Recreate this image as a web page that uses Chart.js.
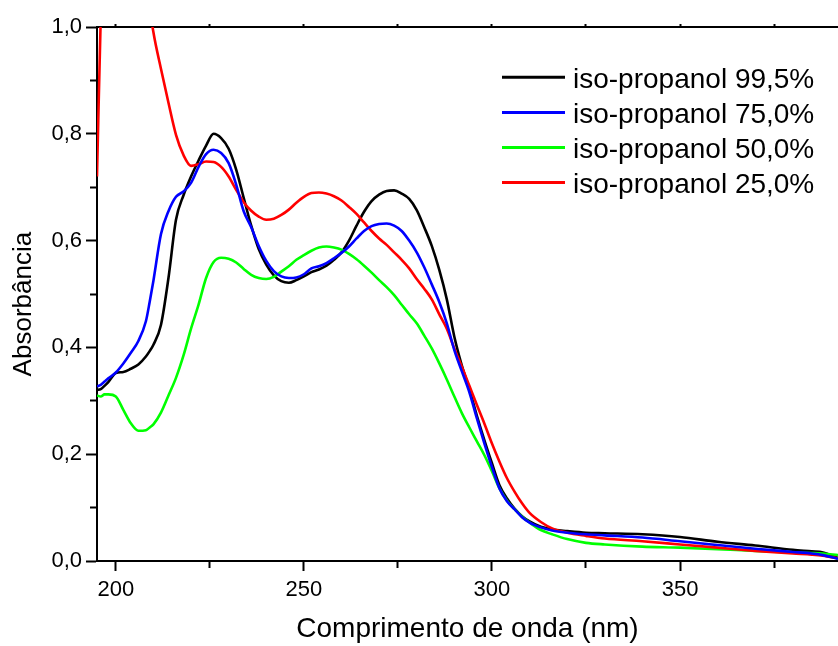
<!DOCTYPE html>
<html>
<head>
<meta charset="utf-8">
<script src="https://cdn.jsdelivr.net/npm/chart.js@4.4.1/dist/chart.umd.min.js"></script>
<style>
  html, body { margin: 0; padding: 0; background: #fff; }
  #c { display: block; }
</style>
</head>
<body>
<canvas id="c" width="838" height="646"></canvas>
<script>
// ---- data ----
const wavelengths = [195,196,197,198,200,202,204,206,208,209,210,212,214,216,218,220,222,224,226,228,230,232,234,236,238,240,242,244,246,248,250,252,254,256,258,260,262,264,266,268,270,272,274,276,278,280,282,284,286,288,290,292,294,296,298,300,302,304,306,308,310,313,316,320,325,330,340,350,360,370,380,385,388,392];

const seriesLabels = ['iso-propanol 99,5%','iso-propanol 75,0%','iso-propanol 50,0%','iso-propanol 25,0%'];

const iso995 = [0.320,0.322,0.328,0.335,0.352,0.354,0.360,0.368,0.383,0.393,0.405,0.442,0.530,0.639,0.685,0.720,0.750,0.778,0.800,0.792,0.772,0.733,0.680,0.628,0.584,0.555,0.535,0.524,0.521,0.526,0.533,0.541,0.546,0.553,0.564,0.578,0.600,0.628,0.654,0.674,0.686,0.693,0.694,0.688,0.678,0.657,0.625,0.590,0.545,0.490,0.420,0.366,0.322,0.272,0.226,0.183,0.142,0.117,0.098,0.084,0.074,0.064,0.059,0.056,0.053,0.052,0.050,0.045,0.036,0.029,0.021,0.018,0.016,0.006];

const iso750 = [0.327,0.330,0.336,0.342,0.353,0.370,0.390,0.412,0.449,0.485,0.525,0.612,0.655,0.682,0.692,0.708,0.738,0.762,0.770,0.764,0.745,0.705,0.655,0.625,0.590,0.562,0.543,0.533,0.530,0.531,0.537,0.548,0.552,0.558,0.567,0.577,0.589,0.604,0.618,0.627,0.631,0.632,0.628,0.618,0.600,0.578,0.550,0.518,0.485,0.445,0.395,0.355,0.316,0.267,0.220,0.176,0.136,0.112,0.097,0.082,0.072,0.063,0.057,0.053,0.050,0.048,0.044,0.037,0.030,0.023,0.017,0.014,0.011,0.004];

const iso500 = [0.310,0.308,0.312,0.312,0.308,0.283,0.258,0.244,0.245,0.250,0.256,0.278,0.310,0.343,0.385,0.435,0.480,0.530,0.560,0.568,0.566,0.559,0.547,0.536,0.530,0.528,0.532,0.542,0.552,0.564,0.573,0.581,0.587,0.589,0.587,0.583,0.575,0.565,0.553,0.540,0.526,0.513,0.498,0.480,0.462,0.445,0.422,0.398,0.370,0.340,0.308,0.277,0.250,0.224,0.198,0.168,0.136,0.113,0.097,0.083,0.072,0.058,0.050,0.041,0.034,0.031,0.027,0.025,0.022,0.019,0.016,0.015,0.014,0.011];

const iso250 = [0.720,1.020,1.200,1.280,1.350,1.340,1.300,1.240,1.150,1.040,0.990,0.922,0.858,0.798,0.760,0.740,0.743,0.748,0.747,0.738,0.720,0.695,0.672,0.656,0.645,0.639,0.641,0.648,0.658,0.671,0.682,0.689,0.690,0.688,0.683,0.675,0.663,0.650,0.634,0.618,0.604,0.592,0.578,0.564,0.548,0.528,0.510,0.490,0.462,0.435,0.398,0.364,0.328,0.292,0.257,0.220,0.186,0.155,0.130,0.108,0.090,0.073,0.061,0.053,0.047,0.042,0.037,0.031,0.025,0.019,0.014,0.012,0.010,0.005];

const xTickLabels = ['200','250','300','350'];
const yTickLabels = ['0,0','0,2','0,4','0,6','0,8','1,0'];

// ---- chart ----
const FONT = '"Liberation Sans", Arial, Helvetica, sans-serif';
const colors = ['#000000','#0000ff','#00ff00','#ff0000'];
const seriesValues = [iso995, iso750, iso500, iso250];
const drawOrder = [4, 1, 3, 2];

const datasets = seriesValues.map((vals, k) => ({
  label: seriesLabels[k],
  data: wavelengths.map((w, i) => ({ x: w, y: vals[i] })),
  borderColor: colors[k],
  backgroundColor: colors[k],
  borderWidth: 2.6,
  pointRadius: 0,
  cubicInterpolationMode: 'monotone',
  fill: false,
  order: drawOrder[k],
  xAxisID: 'x',
  yAxisID: 'y'
}));

const insideLegend = {
  id: 'insideLegend',
  afterDraw(chart) {
    const ctx = chart.ctx;
    ctx.save();
    chart.data.datasets.forEach((ds, i) => {
      const y = 77.3 + i * 35.1;
      ctx.strokeStyle = ds.borderColor;
      ctx.lineWidth = 3;
      ctx.beginPath();
      ctx.moveTo(502, y);
      ctx.lineTo(565, y);
      ctx.stroke();
      ctx.fillStyle = '#000';
      ctx.font = '28px ' + FONT;
      ctx.textBaseline = 'alphabetic';
      ctx.textAlign = 'left';
      ctx.fillText(ds.label, 573, y + 10.5);
    });
    ctx.restore();
  }
};

const xMin = 195, xMax = 392;

new Chart(document.getElementById('c'), {
  type: 'line',
  data: { datasets },
  options: {
    responsive: false,
    animation: false,
    devicePixelRatio: 1,
    layout: { padding: { left: 0, right: 0, top: 0, bottom: 0 } },
    plugins: {
      legend: { display: false },
      tooltip: { enabled: false }
    },
    scales: {
      x: {
        type: 'linear',
        position: 'bottom',
        min: xMin, max: xMax,
        afterFit: (s) => { s.height = 85; },
        border: { display: true, color: '#000', width: 2 },
        grid: {
          drawOnChartArea: false,
          drawTicks: true,
          tickLength: 10,
          tickColor: '#000',
          tickWidth: 2,
          tickBorderDash: (ctx) => (ctx.tick && ctx.tick.value % 50 === 0) ? [] : [6, 100]
        },
        ticks: {
          stepSize: 25,
          includeBounds: false,
          autoSkip: false,
          maxRotation: 0,
          padding: 6,
          color: '#000',
          font: { family: FONT, size: 22 },
          callback: (v) => xTickLabels.includes(String(v)) ? String(v) : ''
        },
        title: {
          display: true,
          text: 'Comprimento de onda (nm)',
          color: '#000',
          font: { family: FONT, size: 28 },
          padding: { top: 0, bottom: 0 }
        }
      },
      x2: {
        type: 'linear',
        position: 'top',
        min: xMin, max: xMax,
        afterFit: (s) => { s.height = 27; },
        border: { display: true, color: '#000', width: 2 },
        grid: {
          drawOnChartArea: false,
          drawTicks: true,
          tickLength: 3,
          tickColor: '#000',
          tickWidth: 2
        },
        ticks: {
          stepSize: 25,
          includeBounds: false,
          autoSkip: false,
          display: false
        }
      },
      y: {
        type: 'linear',
        position: 'left',
        min: 0, max: 1,
        afterFit: (s) => { s.width = 97; },
        border: { display: true, color: '#000', width: 2 },
        grid: {
          drawOnChartArea: false,
          drawTicks: true,
          tickLength: 11,
          tickColor: '#000',
          tickWidth: 2,
          tickBorderDash: (ctx) => (ctx.tick && Math.round(ctx.tick.value * 10) % 2 === 0) ? [] : [0, 4, 7, 100]
        },
        ticks: {
          stepSize: 0.1,
          includeBounds: false,
          autoSkip: false,
          padding: 4,
          color: '#000',
          font: { family: FONT, size: 22 },
          callback: (v) => {
            const t = Math.round(v * 10);
            return t % 2 === 0 ? yTickLabels[t / 2] : '';
          }
        },
        title: {
          display: true,
          text: 'Absorbância\u2002 ',
          color: '#000',
          font: { family: FONT, size: 26 },
          padding: { top: 8, bottom: 0 }
        }
      }
    }
  },
  plugins: [insideLegend]
});
</script>
</body>
</html>
